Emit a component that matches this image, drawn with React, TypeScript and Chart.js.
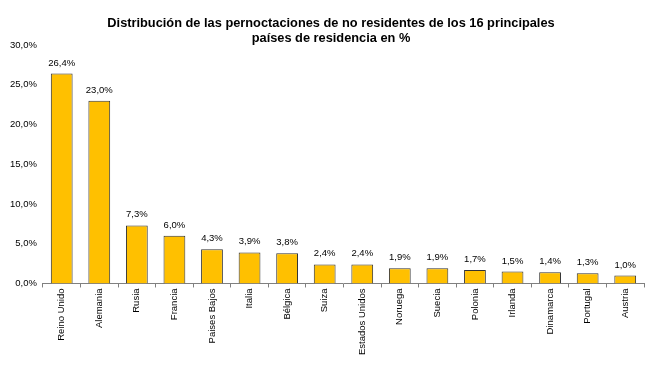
import React, { useEffect, useRef } from "react";
import { Chart, registerables } from "chart.js";

Chart.register(...registerables);

const titleLines = [
  "Distribución de las pernoctaciones de no residentes de los 16 principales",
  "países de residencia en %",
];

const countries = [
  "Reino Unido",
  "Alemania",
  "Rusia",
  "Francia",
  "Paises Bajos",
  "Italia",
  "Bélgica",
  "Suiza",
  "Estados Unidos",
  "Noruega",
  "Suecia",
  "Polonia",
  "Irlanda",
  "Dinamarca",
  "Portugal",
  "Austria",
];

const shares = [26.4, 23.0, 7.3, 6.0, 4.3, 3.9, 3.8, 2.4, 2.4, 1.9, 1.9, 1.7, 1.5, 1.4, 1.3, 1.0];

const yTicks = [0, 5, 10, 15, 20, 25, 30];

const FONT = "'Liberation Sans', Arial, Helvetica, sans-serif";
const SMALL = 9.5;

const fmt = (v: number) => v.toFixed(1).replace(".", ",") + "%";

const labelPlugin = {
  id: "valueLabels",
  afterDatasetsDraw(chart: any) {
    const ctx = chart.ctx;
    const meta = chart.getDatasetMeta(0);
    ctx.save();
    ctx.font = `${SMALL}px ${FONT}`;
    ctx.fillStyle = "#000000";
    ctx.textAlign = "center";
    ctx.textBaseline = "alphabetic";
    meta.data.forEach((bar: any, i: number) => {
      ctx.fillText(fmt(shares[i]), bar.x, bar.y - 8);
    });
    ctx.restore();
  },
};

const titlePlugin = {
  id: "customTitle",
  afterDraw(chart: any) {
    const ctx = chart.ctx;
    ctx.save();
    ctx.font = `bold 12.8px ${FONT}`;
    ctx.fillStyle = "#000000";
    ctx.textAlign = "center";
    ctx.textBaseline = "alphabetic";
    ctx.fillText(titleLines[0], 331, 27);
    ctx.fillText(titleLines[1], 331, 42);
    ctx.restore();
  },
};

export default function App() {
  const ref = useRef<HTMLCanvasElement | null>(null);
  useEffect(() => {
    if (!ref.current) return;
    const chart = new Chart(ref.current, {
      type: "bar",
      data: {
        labels: countries,
        datasets: [
          {
            data: shares,
            backgroundColor: "#FFC000",
            borderColor: "#333333",
            borderWidth: 1,
            barPercentage: 0.58,
            categoryPercentage: 1,
          },
        ],
      },
      options: {
        animation: false,
        responsive: false,
        maintainAspectRatio: false,
        layout: { padding: { top: 45, left: 4, right: 6, bottom: 18 } },
        plugins: {
          legend: { display: false },
          title: { display: false },
          tooltip: { enabled: false },
        },
        scales: {
          x: {
            grid: {
              display: true,
              drawOnChartArea: false,
              drawTicks: true,
              tickLength: 4,
              color: "#808080",
              offset: true,
            },
            border: { display: true, color: "#808080", width: 1 },
            ticks: {
              minRotation: 90,
              maxRotation: 90,
              autoSkip: false,
              padding: 1,
              color: "#000000",
              font: { family: FONT, size: SMALL },
            },
          },
          y: {
            min: 0,
            max: 30,
            afterBuildTicks: (axis: any) => {
              axis.ticks = yTicks.map((v) => ({ value: v }));
            },
            grid: { display: false, drawTicks: false },
            border: { display: false },
            ticks: {
              padding: 6,
              color: "#000000",
              font: { family: FONT, size: SMALL },
              callback: (v: any) => fmt(Number(v)),
            },
          },
        },
      },
      plugins: [labelPlugin, titlePlugin],
    });
    return () => chart.destroy();
  }, []);
  return (
    <div style={{ position: "fixed", left: 0, top: 0, width: 650, height: 374, background: "#ffffff" }}>
      <canvas ref={ref} width={650} height={374} style={{ display: "block" }} />
    </div>
  );
}
